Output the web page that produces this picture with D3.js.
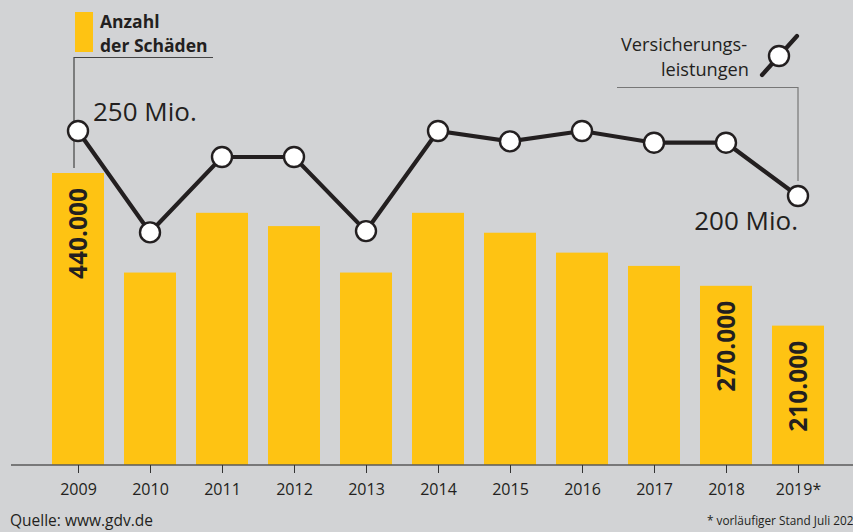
<!DOCTYPE html>
<html>
<head>
<meta charset="utf-8">
<script src="https://cdn.jsdelivr.net/npm/d3@7"></script>
<style>
  html, body { margin: 0; padding: 0; background: #d2d3d5; }
  svg { display: block; }
  text { font-family: "Open Sans", "Noto Sans", sans-serif; fill: #231f20; }
</style>
</head>
<body>
<svg id="chart" width="853" height="532"></svg>
<script>
// ---- data ----
const years = ["2009","2010","2011","2012","2013","2014","2015","2016","2017","2018","2019*"];
const claims = [440000, 290000, 380000, 360000, 290000, 380000, 350000, 320000, 300000, 270000, 210000];
const payouts = [250, 172, 230, 230, 173, 250, 242, 250, 241, 241, 200];
const labeledBars = {"2009": "440.000", "2018": "270.000", "2019*": "210.000"};
const barLegend = ["Anzahl", "der Schäden"];
const lineLegend = ["Versicherungs-", "leistungen"];
const payoutLabels = {"2009": "250 Mio.", "2019*": "200 Mio."};
const source = "Quelle: www.gdv.de";
const footnote = "* vorläufiger Stand Juli 2020";

// ---- setup ----
const W = 853, H = 532;
const svg = d3.select("#chart");
const yellow = "#fec313", dark = "#231f20";

svg.append("rect").attr("width", W).attr("height", H).attr("fill", "#d2d3d5");

const x = d3.scalePoint().domain(years).range([78, 798]);
const barW = 52;
const yBar = d3.scaleLinear().domain([0, 440000]).range([465, 173]);
const yLine = d3.scaleLinear().domain([200, 250]).range([196, 131]);

// bars
svg.append("g").selectAll("rect").data(years).join("rect")
  .attr("x", d => x(d) - barW / 2)
  .attr("y", (d, i) => yBar(claims[i]))
  .attr("width", barW)
  .attr("height", (d, i) => yBar(0) - yBar(claims[i]))
  .attr("fill", yellow);

// bar value labels (rotated)
years.forEach((yr, i) => {
  if (!labeledBars[yr]) return;
  const cx = x(yr) + 8.5, top = yBar(claims[i]) + 15;
  svg.append("text")
    .attr("transform", `translate(${cx},${top}) rotate(-90)`)
    .attr("text-anchor", "end")
    .attr("font-size", 24.5).attr("font-weight", 700)
    .text(labeledBars[yr]);
});

// axis
const axisY = 465;
svg.append("line").attr("x1", 11).attr("x2", W).attr("y1", axisY).attr("y2", axisY)
  .attr("stroke", "#5a5a5a").attr("stroke-width", 1.6);
const axis = d3.axisBottom(x).tickSize(8).tickPadding(10);
const gAxis = svg.append("g").attr("transform", `translate(0,${axisY})`).call(axis);
gAxis.select(".domain").remove();
gAxis.selectAll(".tick line").attr("stroke", "#333").attr("stroke-width", 1);
gAxis.selectAll(".tick text")
  .attr("font-family", "Open Sans, Noto Sans, sans-serif")
  .attr("font-size", 16).attr("fill", dark).attr("dy", null).attr("y", 30);

// leader lines
const leader = svg.append("g").attr("fill", "none").attr("stroke", "#444").attr("stroke-width", 1.2);
leader.append("path").attr("d", `M${x("2009") - 4},168 V57.5 H213`);
leader.append("path").attr("stroke", "#777").attr("d", `M617,87.5 H${x("2019*")} V181`);

// line
const line = d3.line().x((d, i) => x(years[i])).y(d => yLine(d));
svg.append("path").datum(payouts).attr("d", line)
  .attr("fill", "none").attr("stroke", dark).attr("stroke-width", 4.2).attr("stroke-linejoin", "miter");
svg.append("g").selectAll("circle").data(payouts).join("circle")
  .attr("cx", (d, i) => x(years[i])).attr("cy", d => yLine(d)).attr("r", 10)
  .attr("fill", "#fff").attr("stroke", dark).attr("stroke-width", 2.4);

// line value labels
svg.append("text").attr("x", 93).attr("y", 121).attr("font-size", 26).text(payoutLabels["2009"]);
svg.append("text").attr("x", 798).attr("y", 230).attr("text-anchor", "end").attr("font-size", 26).text(payoutLabels["2019*"]);

// legend: bars
svg.append("rect").attr("x", 75).attr("y", 12).attr("width", 18).attr("height", 40).attr("fill", yellow);
svg.append("text").attr("x", 100).attr("y", 28).attr("font-size", 17.5).attr("font-weight", 700).text(barLegend[0]);
svg.append("text").attr("x", 100).attr("y", 52).attr("font-size", 17.5).attr("font-weight", 700).text(barLegend[1]);

// legend: line
svg.append("text").attr("x", 747).attr("y", 51).attr("text-anchor", "end").attr("font-size", 18.2).text(lineLegend[0]);
svg.append("text").attr("x", 749).attr("y", 76).attr("text-anchor", "end").attr("font-size", 18.2).text(lineLegend[1]);
svg.append("line").attr("x1", 762).attr("y1", 75).attr("x2", 797).attr("y2", 36)
  .attr("stroke", dark).attr("stroke-width", 4.2).attr("stroke-linecap", "round");
svg.append("circle").attr("cx", 779).attr("cy", 56).attr("r", 10)
  .attr("fill", "#fff").attr("stroke", dark).attr("stroke-width", 2.4);

// source and footnote
svg.append("text").attr("x", 10).attr("y", 526).attr("font-size", 15.5).text(source);
svg.append("text").attr("x", 707).attr("y", 525).attr("font-size", 11.8).text(footnote);
</script>
</body>
</html>
